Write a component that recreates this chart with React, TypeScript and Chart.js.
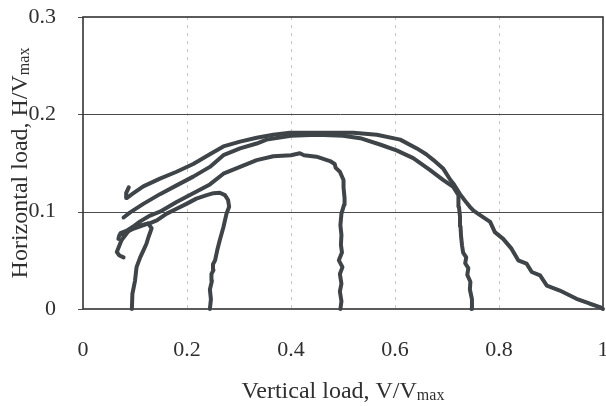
import React, { useEffect, useRef } from "react";
import { Chart, registerables } from "chart.js";

Chart.register(...registerables);

// Axis ticks
const xTicks = [0, 0.2, 0.4, 0.6, 0.8, 1];
const yTicks = [0, 0.1, 0.2, 0.3];
const xTitle = "Vertical load, V/V";
const yTitle = "Horizontal load, H/V";
const subText = "max";

// Load path V0/Vmax = 1.0
const v100 = [1.0, 0.994, 0.975, 0.949, 0.917, 0.892, 0.879, 0.863, 0.853, 0.837, 0.824, 0.808, 0.792, 0.783, 0.765, 0.751, 0.744, 0.735, 0.725, 0.712, 0.706, 0.693, 0.674, 0.66, 0.642, 0.61, 0.565, 0.52, 0.475, 0.44, 0.398, 0.366, 0.334, 0.302, 0.27, 0.244, 0.212, 0.18, 0.148, 0.116, 0.097, 0.084, 0.083, 0.088];
const h100 = [0, 0.002, 0.0054, 0.0105, 0.019, 0.024, 0.0345, 0.038, 0.0466, 0.05, 0.062, 0.072, 0.079, 0.0895, 0.096, 0.101, 0.105, 0.111, 0.118, 0.129, 0.133, 0.144, 0.153, 0.159, 0.165, 0.174, 0.179, 0.181, 0.181, 0.181, 0.181, 0.179, 0.176, 0.172, 0.167, 0.159, 0.149, 0.141, 0.134, 0.126, 0.119, 0.114, 0.119, 0.125];

// Load path V0/Vmax = 0.75
const v075 = [0.747, 0.748, 0.744, 0.745, 0.739, 0.741, 0.735, 0.737, 0.731, 0.729, 0.727, 0.726, 0.725, 0.723, 0.722, 0.712, 0.693, 0.667, 0.635, 0.603, 0.571, 0.533, 0.5, 0.45, 0.4, 0.353, 0.334, 0.302, 0.27, 0.244, 0.212, 0.18, 0.148, 0.116, 0.09, 0.078];
const h075 = [0, 0.01, 0.02, 0.028, 0.035, 0.042, 0.047, 0.053, 0.058, 0.065, 0.075, 0.085, 0.095, 0.105, 0.117, 0.1255, 0.1325, 0.143, 0.155, 0.163, 0.169, 0.1755, 0.178, 0.179, 0.178, 0.174, 0.17, 0.165, 0.158, 0.146, 0.136, 0.127, 0.118, 0.108, 0.099, 0.094];

// Load path V0/Vmax = 0.5
const v050 = [0.495, 0.497, 0.494, 0.497, 0.494, 0.499, 0.492, 0.498, 0.496, 0.497, 0.495, 0.497, 0.502, 0.503, 0.501, 0.501, 0.494, 0.486, 0.484, 0.475, 0.449, 0.425, 0.417, 0.4, 0.366, 0.334, 0.302, 0.27, 0.244, 0.212, 0.18, 0.148, 0.129, 0.11, 0.09, 0.074, 0.065, 0.07, 0.078];
const h050 = [0, 0.008, 0.018, 0.026, 0.036, 0.043, 0.05, 0.058, 0.066, 0.076, 0.086, 0.098, 0.107, 0.114, 0.125, 0.1325, 0.141, 0.145, 0.149, 0.152, 0.1565, 0.158, 0.16, 0.158, 0.157, 0.153, 0.146, 0.139, 0.128, 0.119, 0.11, 0.1, 0.096, 0.09, 0.082, 0.0706, 0.0585, 0.055, 0.053];

// Load path V0/Vmax = 0.25
const v025 = [0.244, 0.246, 0.244, 0.248, 0.247, 0.251, 0.25, 0.254, 0.258, 0.263, 0.27, 0.276, 0.281, 0.279, 0.273, 0.263, 0.251, 0.238, 0.218, 0.199, 0.18, 0.161, 0.142, 0.128, 0.112, 0.095, 0.082, 0.072];
const h025 = [0, 0.01, 0.02, 0.029, 0.036, 0.04, 0.046, 0.05, 0.06, 0.0706, 0.084, 0.098, 0.105, 0.112, 0.117, 0.1194, 0.119, 0.117, 0.1134, 0.108, 0.103, 0.098, 0.091, 0.088, 0.086, 0.084, 0.08, 0.078];

// Load path V0/Vmax = 0.1
const v010 = [0.094, 0.095, 0.1, 0.103, 0.11, 0.116, 0.122, 0.126, 0.132, 0.125, 0.11, 0.095, 0.08, 0.07, 0.068];
const h010 = [0, 0.0155, 0.029, 0.043, 0.053, 0.06, 0.067, 0.074, 0.083, 0.088, 0.085, 0.082, 0.078, 0.076, 0.072];

const seriesNames = ["V0 = 1.0", "V0 = 0.75", "V0 = 0.5", "V0 = 0.25", "V0 = 0.1"];
const seriesV = [v100, v075, v050, v025, v010];
const seriesH = [h100, h075, h050, h025, h010];

const LINE = "#3e4448";
const TEXT = "#2f2f2f";
const SERIF = "'Liberation Serif', 'Times New Roman', serif";

const framePlugin = {
  id: "frame",
  beforeDatasetsDraw(chart: any) {
    const { ctx, chartArea, scales } = chart;
    const { left, right, top, bottom } = chartArea;
    const xs = scales.x;
    const ys = scales.y;
    ctx.save();
    // vertical dashed faint grid
    ctx.strokeStyle = "#c8c8c8";
    ctx.lineWidth = 1;
    ctx.setLineDash([3, 5]);
    xTicks.forEach((t) => {
      if (t > 0 && t < 1) {
        const px = Math.round(xs.getPixelForValue(t)) + 0.5;
        ctx.beginPath();
        ctx.moveTo(px, top);
        ctx.lineTo(px, bottom);
        ctx.stroke();
      }
    });
    // horizontal grid + small outside ticks
    ctx.setLineDash([]);
    ctx.strokeStyle = "#4a4a4a";
    ctx.lineWidth = 1;
    yTicks.forEach((t) => {
      const py = Math.round(ys.getPixelForValue(t)) + 0.5;
      ctx.beginPath();
      ctx.moveTo(left - 5, py);
      ctx.lineTo(t > 0 && t < 0.3 ? right : left, py);
      ctx.stroke();
    });
    // frame
    ctx.strokeStyle = "#333";
    ctx.lineWidth = 1.6;
    ctx.strokeRect(left, top, right - left, bottom - top);
    ctx.restore();
  },
  afterDraw(chart: any) {
    const { ctx, chartArea } = chart;
    const { left, right, top, bottom } = chartArea;
    const big = 24;
    const small = 16;
    ctx.save();
    ctx.fillStyle = TEXT;
    ctx.textBaseline = "alphabetic";
    ctx.textAlign = "left";
    // x title
    ctx.font = `${big}px ${SERIF}`;
    const w1 = ctx.measureText(xTitle).width;
    ctx.font = `${small}px ${SERIF}`;
    const w2 = ctx.measureText(subText).width;
    const cx = (left + right) / 2;
    const sx = cx - (w1 + w2) / 2;
    ctx.font = `${big}px ${SERIF}`;
    ctx.fillText(xTitle, sx, 398);
    ctx.font = `${small}px ${SERIF}`;
    ctx.fillText(subText, sx + w1, 400);
    // y title
    ctx.font = `${big}px ${SERIF}`;
    const u1 = ctx.measureText(yTitle).width;
    ctx.font = `${small}px ${SERIF}`;
    const u2 = ctx.measureText(subText).width;
    const cy = (top + bottom) / 2;
    ctx.translate(27, cy);
    ctx.rotate(-Math.PI / 2);
    const sy = -(u1 + u2) / 2;
    ctx.font = `${big}px ${SERIF}`;
    ctx.fillText(yTitle, sy, 0);
    ctx.font = `${small}px ${SERIF}`;
    ctx.fillText(subText, sy + u1, 2);
    ctx.restore();
  },
};

export default function App() {
  const ref = useRef<HTMLCanvasElement | null>(null);
  useEffect(() => {
    if (!ref.current) return;
    const datasets = seriesNames.map((name, i) => ({
      label: name,
      data: seriesV[i].map((v, j) => ({ x: v, y: seriesH[i][j] })),
      showLine: true,
      borderColor: LINE,
      backgroundColor: LINE,
      borderWidth: 4,
      pointRadius: 0,
      tension: 0,
      borderJoinStyle: "round" as const,
      borderCapStyle: "round" as const,
      clip: 4,
    }));
    const chart = new Chart(ref.current, {
      type: "scatter",
      data: { datasets },
      options: {
        animation: false,
        responsive: false,
        layout: { padding: { left: 0, top: 17, right: 3, bottom: 0 } },
        plugins: { legend: { display: false }, tooltip: { enabled: false } },
        scales: {
          x: {
            type: "linear",
            min: 0,
            max: 1,
            afterBuildTicks: (s: any) => {
              s.ticks = xTicks.map((v) => ({ value: v }));
            },
            afterFit: (s: any) => {
              s.height = 97;
              s.paddingLeft = 0;
              s.paddingRight = 0;
            },
            grid: { display: false },
            border: { display: false },
            ticks: {
              padding: 20,
              color: TEXT,
              font: { family: SERIF, size: 22 },
              maxRotation: 0,
              callback: (v: any) => String(v),
            },
          },
          y: {
            type: "linear",
            min: 0,
            max: 0.3,
            afterBuildTicks: (s: any) => {
              s.ticks = yTicks.map((v) => ({ value: v }));
            },
            afterFit: (s: any) => {
              s.width = 83;
              s.paddingTop = 0;
              s.paddingBottom = 0;
            },
            grid: { display: false },
            border: { display: false },
            ticks: {
              padding: 19,
              color: TEXT,
              font: { family: SERIF, size: 22 },
              callback: (v: any) => String(v),
            },
          },
        },
      },
      plugins: [framePlugin],
    });
    return () => chart.destroy();
  }, []);
  return (
    <div style={{ position: "fixed", left: 0, top: 0, width: 606, height: 406, background: "#fff" }}>
      <canvas ref={ref} width={606} height={406} style={{ display: "block" }} />
    </div>
  );
}
